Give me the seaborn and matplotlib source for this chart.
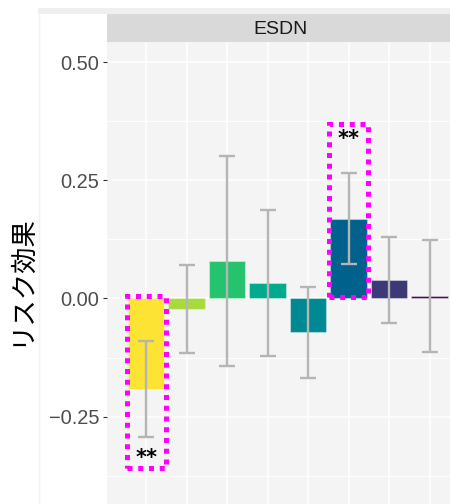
import matplotlib
matplotlib.use("Agg")
import matplotlib.pyplot as plt
from matplotlib.patches import Rectangle
from matplotlib.lines import Line2D
import numpy as np
import pandas as pd
import seaborn as sns

# ---- data ----
categories = ["c1", "c2", "c3", "c4", "c5", "c6", "c7", "c8"]
estimate = [-0.192, -0.022, 0.079, 0.033, -0.071, 0.168, 0.040, 0.006]
ci_low = [-0.293, -0.116, -0.143, -0.121, -0.168, 0.073, -0.051, -0.113]
ci_high = [-0.090, 0.071, 0.302, 0.187, 0.024, 0.266, 0.129, 0.124]
bar_colors = ["#FDE333", "#A8DA3C", "#26C36E", "#00AB8D", "#008993",
              "#00618D", "#3D3876", "#4B0055"]
facet_label = "ESDN"
y_title = "リスク効果"
y_ticks = [-0.25, 0.00, 0.25, 0.50]
y_ticklabels = ["\u22120.25", "0.00", "0.25", "0.50"]
# significant effects: (category index, lower, upper, star position)
sig_index = [0, 5]
sig_low = [-0.358, 0.004]
sig_high = [0.005, 0.368]
sig_star_y = [-0.338, 0.337]
sig_label = ["**", "**"]

df = pd.DataFrame({"cat": categories, "est": estimate})

W, H = 450, 504
fig = plt.figure(figsize=(W / 100, H / 100), dpi=100)
fig.patch.set_facecolor("white")

# faint page decorations
fig.patches.append(Rectangle((38 / W, 1 - 14 / H), 1, 6 / H, transform=fig.transFigure,
                             facecolor="#EFEFEF", edgecolor="none", zorder=0))
fig.lines.append(Line2D([38.5 / W, 38.5 / W], [0, 1 - 14 / H], transform=fig.transFigure,
                        color="#F2F2F2", lw=1.0, zorder=0))

left_px, right_px, top_px = 106.5, 454, 42
ax = fig.add_axes([left_px / W, 0, (right_px - left_px) / W, 1 - top_px / H])
ax.set_facecolor("#F4F4F4")

sns.barplot(data=df, x="cat", y="est", hue="cat", palette=bar_colors, legend=False,
            width=0.9, errorbar=None, ax=ax, saturation=1,
            edgecolor=(1, 1, 1, 0.35), linewidth=0.8, zorder=2)

xs = np.arange(len(categories))
est = np.array(estimate)
yerr = np.vstack([est - np.array(ci_low), np.array(ci_high) - est])
ax.errorbar(xs, est, yerr=yerr, fmt="none", ecolor="#B5B5B5", elinewidth=1.7,
            capsize=5.8, capthick=1.7, zorder=3)

for i, lo, hi, sy, lab in zip(sig_index, sig_low, sig_high, sig_star_y, sig_label):
    ax.add_patch(Rectangle((i - 0.48, lo), 0.96, hi - lo, fill=False,
                           edgecolor="#FF00FF", lw=3.6, linestyle=(0, (1, 1.15)),
                           zorder=4))
    ax.text(i, sy, lab, ha="center", va="center", fontsize=15, fontweight="bold",
            family="DejaVu Sans", color="black", zorder=5)

ax.set_xlim(-0.98, 7.6)
ax.set_ylim(-0.4347, 0.5423)
ax.set_yticks(y_ticks)
ax.set_yticklabels(y_ticklabels, family="Liberation Sans", fontsize=14.4, color="#4D4D4D")
ax.set_yticks([-0.375, -0.125, 0.125, 0.375], minor=True)
ax.tick_params(axis="y", which="major", length=2.7, width=0.8, color="#333333", pad=2.5)
ax.tick_params(axis="y", which="minor", length=0)
ax.tick_params(axis="x", length=0, labelbottom=False)
ax.set_xlabel("")
ax.set_ylabel("")
ax.grid(True, which="major", color="white", lw=1.1, zorder=0)
ax.grid(True, which="minor", axis="y", color="white", lw=0.6, zorder=0)
ax.set_axisbelow(True)
for s in ax.spines.values():
    s.set_visible(False)

# facet strip
sax = fig.add_axes([left_px / W, 1 - top_px / H, (right_px - left_px) / W, 28 / H])
sax.set_facecolor("#D9D9D9")
sax.set_xticks([])
sax.set_yticks([])
for s in sax.spines.values():
    s.set_visible(False)
sax.text(0.5, 0.45, facet_label, ha="center", va="center", fontsize=14,
         family="Liberation Sans", color="#1A1A1A", transform=sax.transAxes)

fig.text(20 / W, 1 - 280 / H, y_title, rotation=90, ha="center", va="center",
         fontsize=19, family=["Noto Sans CJK JP", "DejaVu Sans"], color="black")

fig.savefig("out.png", dpi=100)
